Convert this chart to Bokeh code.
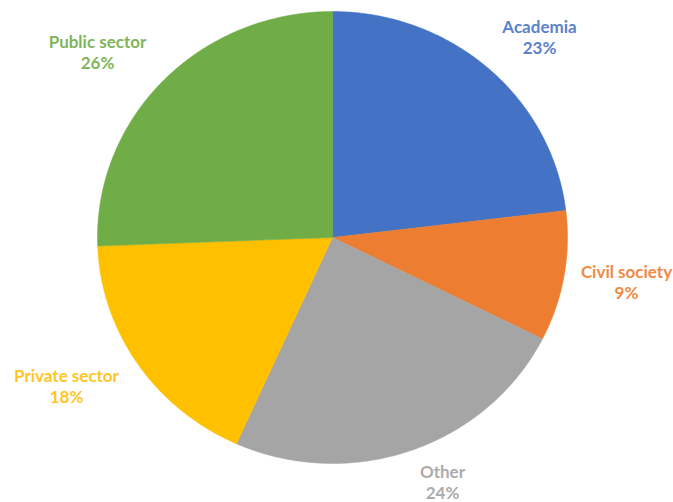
import numpy as np
from bokeh.plotting import figure
from bokeh.models import Range1d, ColumnDataSource
from bokeh.core.properties import value
from bokeh.embed import file_html
from bokeh.resources import INLINE

# ---- data ----
categories = ["Academia", "Civil society", "Other", "Private sector", "Public sector"]
shares = [23.1, 9.3, 24.3, 17.7, 25.6]
pct_labels = ["23%", "9%", "24%", "18%", "26%"]

# ---- styles / layout ----
colors = ["#4472C4", "#ED7D31", "#A5A5A5", "#FFC000", "#70AD47"]
text_colors = ["#5B82CB", "#EF8A45", "#ABABAB", "#FFC61F", "#7FB55B"]
W, H = 673, 502
# pie centre and radii, in page pixels (y down)
pcx, pcy = 332, 237
rx, ry = 235, 226
# label centres in page pixel coordinates (x, y of name line)
label_pos = [(539, 26), (626, 271), (442, 471), (66, 375), (97, 41)]
line_gap = 21

p = figure(width=W, height=H, output_backend="svg", toolbar_location=None,
           x_range=Range1d(0, W), y_range=Range1d(0, H), min_border=0)
p.axis.visible = False
p.grid.visible = False
p.outline_line_color = None
p.background_fill_color = "white"

cx, cy = pcx, H - pcy
fr = np.array(shares, dtype=float) / np.sum(shares)
cum = np.concatenate([[0], np.cumsum(fr)])
xs, ys = [], []
for i in range(len(shares)):
    t = np.linspace(cum[i], cum[i + 1], 120)
    ang = np.pi / 2 - 2 * np.pi * t
    xs.append(list(np.concatenate([[cx], cx + rx * np.cos(ang), [cx]])))
    ys.append(list(np.concatenate([[cy], cy + ry * np.sin(ang), [cy]])))

src = ColumnDataSource(dict(xs=xs, ys=ys, color=colors, name=categories))
p.patches("xs", "ys", source=src, fill_color="color", line_color="color", line_width=0.5)

lx = [px for px, py in label_pos]
ly_name = [H - py for px, py in label_pos]
ly_pct = [H - py - line_gap for px, py in label_pos]
tsrc = ColumnDataSource(dict(x=lx, y1=ly_name, y2=ly_pct, name=categories,
                             pct=pct_labels, tc=text_colors))
for ycol, tcol in (("y1", "name"), ("y2", "pct")):
    p.text(x="x", y=ycol, text=tcol, source=tsrc, text_color="tc",
           text_align="center", text_baseline="middle",
           text_font=value("Lato"), text_font_style="bold", text_font_size="17px")

open("out.html", "w").write(file_html(p, INLINE))
